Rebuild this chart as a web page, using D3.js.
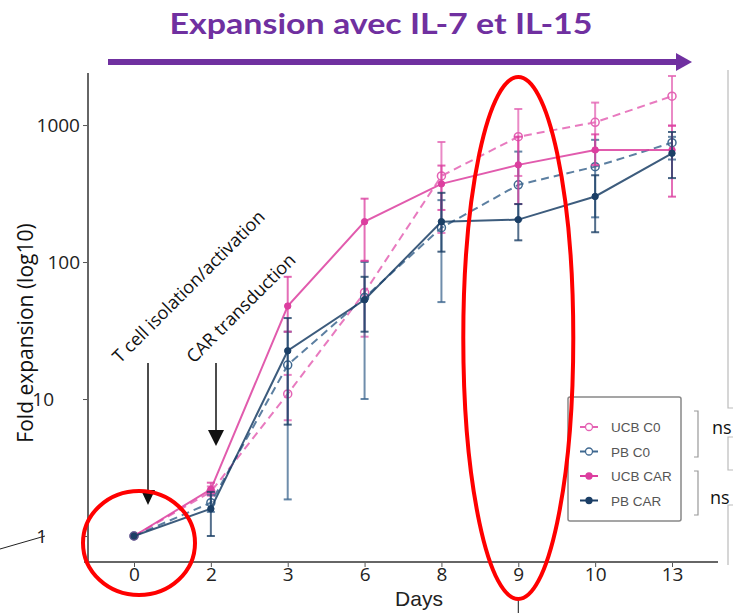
<!DOCTYPE html>
<html><head><meta charset="utf-8">
<script src="https://cdn.jsdelivr.net/npm/d3@7"></script>
<style>body{margin:0;background:#fff}svg{display:block}</style>
</head><body>
<svg id="c" width="733" height="613"></svg>
<script>
// ---- data ----
const days = ["0","2","3","6","8","9","10","13"];
const yTicks = [1, 10, 100, 1000];
const seriesNames = ["UCB C0","PB C0","UCB CAR","PB CAR"];
const ucbC0    = [1, 2.1, 10.9, 60, 425, 822, 1047, 1625];
const ucbC0Lo  = [1, 1.97, 7, 28.5, 163, 425, 650, 990];
const ucbC0Hi  = [1, 2.3, 15, 102, 752, 1310, 1458, 2280];
const pbC0     = [1, 1.75, 17.7, 55, 178, 366, 497, 743];
const pbC0Lo   = [1, 1.5, 1.85, 10, 51, 205, 212, 560];
const pbC0Hi   = [1, 2.0, 31, 100, 283, 640, 780, 820];
const ucbCar   = [1, 2.19, 47.7, 197, 372, 512, 658, 658];
const ucbCarLo = [1, 2.05, 31, 102, 240, 265, 510, 300];
const ucbCarHi = [1, 2.45, 78, 290, 506, 822, 855, 990];
const pbCar    = [1, 1.58, 22.5, 53, 197, 204, 301, 622];
const pbCarLo  = [1, 1.0, 6.5, 31, 119, 144, 165, 410];
const pbCarHi  = [1, 2.1, 39, 78, 320, 265, 430, 890];

const series = [
  {name: seriesNames[0], v: ucbC0, lo: ucbC0Lo, hi: ucbC0Hi, color: "#e463b4", dash: "8,5", open: true},
  {name: seriesNames[1], v: pbC0, lo: pbC0Lo, hi: pbC0Hi, color: "#3f6890", dash: "8,5", open: true},
  {name: seriesNames[2], v: ucbCar, lo: ucbCarLo, hi: ucbCarHi, color: "#dc3e9f", dash: null, open: false},
  {name: seriesNames[3], v: pbCar, lo: pbCarLo, hi: pbCarHi, color: "#1b3f66", dash: null, open: false}
];

const svg = d3.select("#c");
const x = d3.scalePoint().domain(days).range([134, 672]);
const y = d3.scaleLog().domain([0.657, 2398]).range([561, 73]);

// title + purple arrow
svg.append("text").attr("x", 381).attr("y", 34).attr("text-anchor", "middle")
  .attr("font-family", "Lato").attr("font-weight", 700).attr("font-size", 29)
  .attr("fill", "#7030a0").attr("textLength", 423).attr("lengthAdjust", "spacingAndGlyphs")
  .text("Expansion avec IL-7 et IL-15");
svg.append("line").attr("x1", 108).attr("x2", 678).attr("y1", 62).attr("y2", 62)
  .attr("stroke", "#7030a0").attr("stroke-width", 6);
svg.append("path").attr("d", "M676,53 L692,62 L676,71 Z").attr("fill", "#7030a0");

// right-edge neighbour frame lines
const g0 = svg.append("g").attr("stroke", "#bbb").attr("stroke-width", 1.2).attr("fill", "none");
g0.append("path").attr("d", "M728,70 V408 H733");
g0.append("path").attr("d", "M733,437 H728 V470 H733");
g0.append("path").attr("d", "M733,505 H728 V565");

// axes
const gy = svg.append("g").attr("transform", "translate(88,0)")
  .call(d3.axisLeft(y).tickValues(yTicks).tickFormat(d3.format("d")).tickSize(5).tickSizeOuter(0));
gy.select(".domain").remove();
gy.selectAll("line").attr("stroke", "#555");
const yShift = {1: -33, 10: -26, 100: 0, 1000: 0};
gy.selectAll("text").attr("font-family", "Open Sans").attr("font-size", 19).attr("fill", "#222")
  .attr("dx", d => yShift[d]);
svg.append("line").attr("x1", 88).attr("x2", 88).attr("y1", 73).attr("y2", 562)
  .attr("stroke", "#666").attr("stroke-width", 2);

const gx = svg.append("g").attr("transform", "translate(0,562)")
  .call(d3.axisBottom(x).tickSize(5).tickSizeOuter(0).tickPadding(0));
gx.select(".domain").remove();
gx.selectAll("line").attr("stroke", "#555");
gx.selectAll("text").attr("font-family", "Open Sans").attr("font-size", 19).attr("fill", "#222");
svg.append("line").attr("x1", 84).attr("x2", 718).attr("y1", 562).attr("y2", 562)
  .attr("stroke", "#666").attr("stroke-width", 2);

svg.append("text").attr("x", 419).attr("y", 606).attr("text-anchor", "middle")
  .attr("font-family", "Liberation Sans").attr("font-size", 21).attr("fill", "#222").text("Days");
svg.append("text").attr("transform", "translate(33,333) rotate(-90)").attr("text-anchor", "middle")
  .attr("font-family", "Open Sans").attr("font-size", 21).attr("fill", "#111").text("Fold expansion (log10)");

// stray line bottom-left
svg.append("line").attr("x1", 0).attr("y1", 549).attr("x2", 45).attr("y2", 536)
  .attr("stroke", "#222").attr("stroke-width", 1);

// series
const line = d3.line().x((d, i) => x(days[i])).y(d => y(d));
series.forEach(s => {
  const g = svg.append("g");
  days.forEach((d, i) => {
    if (s.lo[i] === s.hi[i]) return;
    const cx = x(d);
    g.append("line").attr("x1", cx).attr("x2", cx).attr("y1", y(s.lo[i])).attr("y2", y(s.hi[i]))
      .attr("stroke", s.color).attr("stroke-width", 2).attr("opacity", 0.75);
    [s.lo[i], s.hi[i]].forEach(v => g.append("line").attr("x1", cx - 4).attr("x2", cx + 4)
      .attr("y1", y(v)).attr("y2", y(v)).attr("stroke", s.color).attr("stroke-width", 2).attr("opacity", 0.8));
  });
  g.append("path").attr("d", line(s.v)).attr("fill", "none").attr("stroke", s.color)
    .attr("stroke-width", 2).attr("opacity", 0.85).attr("stroke-dasharray", s.dash);
  g.selectAll("circle").data(s.v).join("circle")
    .attr("cx", (d, i) => x(days[i])).attr("cy", d => y(d))
    .attr("r", s.open ? 4 : 3.2)
    .attr("fill", s.open ? "none" : s.color).attr("stroke", s.color).attr("stroke-width", s.open ? 1.5 : 1);
});

// annotations
const ann = svg.append("g").attr("font-family", "Open Sans").attr("font-size", 18).attr("fill", "#111");
ann.append("text").attr("transform", "translate(120,364) rotate(-45)").text("T cell isolation/activation");
ann.append("text").attr("transform", "translate(194,364) rotate(-45)").text("CAR transduction");
svg.append("line").attr("x1", 148).attr("x2", 148).attr("y1", 363).attr("y2", 492).attr("stroke", "#111").attr("stroke-width", 1.5);
svg.append("path").attr("d", "M141,490 L155,490 L148,505 Z").attr("fill", "#111");
svg.append("line").attr("x1", 216).attr("x2", 216).attr("y1", 363).attr("y2", 432).attr("stroke", "#111").attr("stroke-width", 1.5);
svg.append("path").attr("d", "M208,430 L224,430 L216,446 Z").attr("fill", "#111");

// legend
const lg = svg.append("g");
lg.append("rect").attr("x", 568).attr("y", 397).attr("width", 113).attr("height", 124).attr("rx", 2)
  .attr("fill", "#fff").attr("stroke", "#888").attr("stroke-width", 1.5);
series.forEach((s, i) => {
  const yy = 427 + i * 24.5;
  lg.append("line").attr("x1", 580).attr("x2", 598).attr("y1", yy).attr("y2", yy).attr("stroke", s.color).attr("stroke-width", 2);
  lg.append("circle").attr("cx", 589).attr("cy", yy).attr("r", s.open ? 3.5 : 3)
    .attr("fill", s.open ? "#fff" : s.color).attr("stroke", s.color).attr("stroke-width", 1.3);
  lg.append("text").attr("x", 611).attr("y", yy + 5).attr("font-family", "Liberation Sans").attr("font-size", 13.5)
    .attr("fill", "#555").text(s.name);
});
// brackets + ns
const br = svg.append("g").attr("stroke", "#999").attr("stroke-width", 1.2).attr("fill", "none");
br.append("path").attr("d", "M694,411 H698 V457 H694");
br.append("path").attr("d", "M694,471 H698 V515 H694");
svg.append("text").attr("x", 712).attr("y", 434).attr("font-family", "Open Sans").attr("font-size", 18).attr("fill", "#111").text("ns");
svg.append("text").attr("x", 710).attr("y", 504).attr("font-family", "Open Sans").attr("font-size", 18).attr("fill", "#111").text("ns");

// red highlight ellipses
svg.append("ellipse").attr("cx", x("0") + 5).attr("cy", 543).attr("rx", 56).attr("ry", 52)
  .attr("fill", "none").attr("stroke", "#f00").attr("stroke-width", 4);
svg.append("ellipse").attr("cx", x("9")).attr("cy", 338).attr("rx", 55).attr("ry", 261)
  .attr("fill", "none").attr("stroke", "#f00").attr("stroke-width", 4);
svg.append("line").attr("x1", x("9")).attr("x2", x("9")).attr("y1", 601).attr("y2", 613).attr("stroke", "#111").attr("stroke-width", 1);
</script>
</body></html>
